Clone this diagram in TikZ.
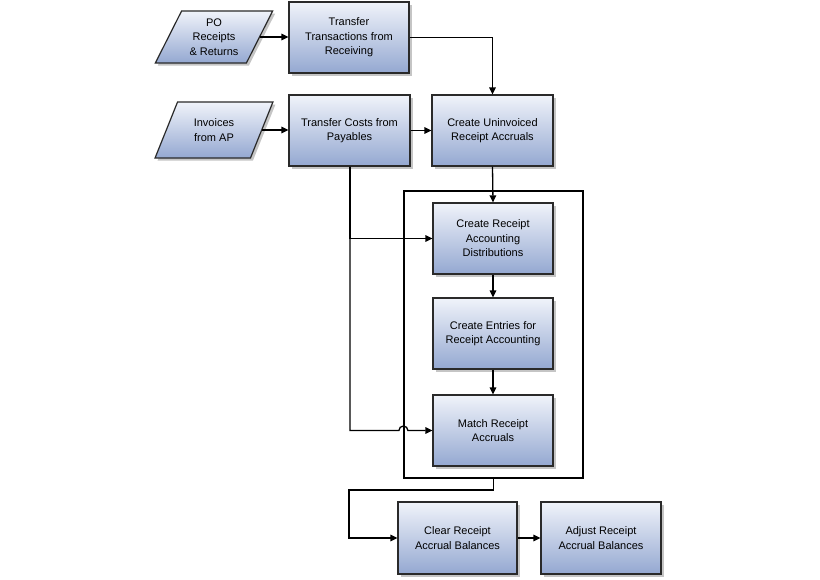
\documentclass[tikz,border=0pt]{standalone}
\usepackage{fontspec}
\setmainfont{Liberation Sans}
\usetikzlibrary{shapes.geometric,shadows,arrows.meta,calc}
\definecolor{boxtop}{HTML}{F0F3FA}
\definecolor{boxbot}{HTML}{94A8D1}
\definecolor{edge}{HTML}{2A2A2A}
\tikzset{
  flowbox/.style={rectangle, draw=edge, line width=1.2pt, top color=boxtop, bottom color=boxbot,
    minimum width=120pt, minimum height=71pt, align=center, font=\fontsize{11pt}{14.5pt}\selectfont,
    drop shadow={shadow xshift=2.5pt, shadow yshift=-2.5pt, fill=black!45, opacity=0.5}, inner sep=2pt},
  datain/.style={trapezium, trapezium left angle=62, trapezium right angle=118, trapezium stretches=true,
    draw=edge, line width=1.2pt, top color=boxtop, bottom color=boxbot,
    minimum width=118pt, align=center, font=\fontsize{11pt}{14.5pt}\selectfont, inner sep=1pt,
    drop shadow={shadow xshift=2.5pt, shadow yshift=-2.5pt, fill=black!45, opacity=0.5}},
  frame/.style={rectangle, draw=black, line width=1.2pt, minimum width=179pt, minimum height=287pt},
  arr/.style={draw=black, line width=1.3pt, -{Triangle[length=7pt,width=6.5pt]}},
}
\begin{document}
\begin{tikzpicture}[x=1pt,y=-1pt]
\useasboundingbox[fill=white] (0,0) rectangle (820,579);
% outer frame
\node[frame] (outer) at (493.5,334.5) {};
% inputs
\node[datain, minimum height=52pt] (po) at (214,37) {PO\\Receipts\\\& Returns};
\node[datain, minimum height=56pt] (inv) at (214,130) {Invoices\\from AP};
% boxes
\node[flowbox] (tt) at (349,37.5) {Transfer\\Transactions from\\Receiving};
\node[flowbox, minimum width=121pt] (tc) at (349.5,130.5) {Transfer Costs from\\Payables};
\node[flowbox, minimum width=121pt] (cu) at (492.5,130.5) {Create Uninvoiced\\Receipt Accruals};
\node[flowbox] (crad) at (493,238.5) {Create Receipt\\Accounting\\Distributions};
\node[flowbox] (ce) at (493,333.5) {Create Entries for\\Receipt Accounting};
\node[flowbox] (mra) at (493,430.5) {Match Receipt\\Accruals};
\node[flowbox, minimum width=119pt, minimum height=72pt] (cr) at (457.5,538) {Clear Receipt\\Accrual Balances};
\node[flowbox, minimum height=72pt] (ar) at (601,538) {Adjust Receipt\\Accrual Balances};
% connectors
\draw[arr] (po.east) -- (po.east -| tt.west);
\draw[arr] (tt.east) -| (cu.north);
\draw[arr] (inv.east) -- (inv.east -| tc.west);
\draw[arr] (tc.east) -- (cu.west);
\draw[arr] (cu.south) -- (crad.north);
\draw[arr] (crad.south) -- (ce.north);
\draw[arr] (ce.south) -- (mra.north);
\coordinate (tap) at (350,0);
\draw[arr] (tap |- tc.south) |- (crad.west);
\draw[arr] (tap |- tc.south) |- ($(outer.west |- mra.west)+(-4.5,0)$)
  arc[start angle=180, end angle=360, radius=4.5] -- (mra.west);
\coordinate (bend) at (349,490);
\draw[arr] (outer.south) |- (bend) |- (cr.west);
\draw[arr] (cr.east) -- (ar.west);
\end{tikzpicture}
\end{document}
